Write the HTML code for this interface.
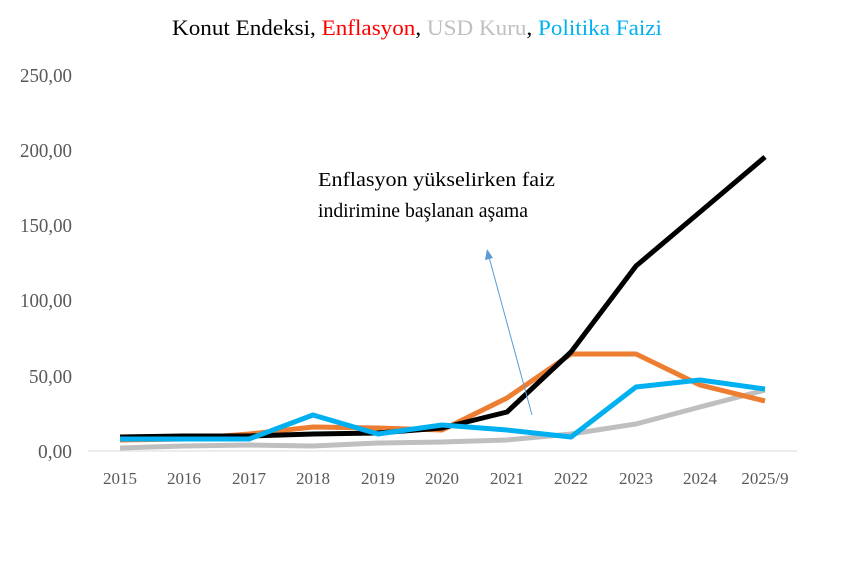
<!DOCTYPE html>
<html><head><meta charset="utf-8"><style>
body{margin:0;background:#fff;}
</style></head><body>
<svg width="844" height="564" xmlns="http://www.w3.org/2000/svg" font-family="Liberation Serif, serif">
<rect width="844" height="564" fill="#fff"/>
<text x="172" y="35" font-size="22" textLength="490" lengthAdjust="spacingAndGlyphs"><tspan fill="#000">Konut Endeksi, </tspan><tspan fill="#ff0000">Enflasyon</tspan><tspan fill="#000">, </tspan><tspan fill="#c0c0c0">USD Kuru</tspan><tspan fill="#000">, </tspan><tspan fill="#00b0f0">Politika Faizi</tspan></text>
<g font-size="20" fill="#595959">
<text x="20" y="82" textLength="52" lengthAdjust="spacingAndGlyphs">250,00</text>
<text x="20" y="157" textLength="52" lengthAdjust="spacingAndGlyphs">200,00</text>
<text x="20" y="232" textLength="52" lengthAdjust="spacingAndGlyphs">150,00</text>
<text x="20" y="307" textLength="52" lengthAdjust="spacingAndGlyphs">100,00</text>
<text x="29" y="383" textLength="43" lengthAdjust="spacingAndGlyphs">50,00</text>
<text x="38" y="458" textLength="34" lengthAdjust="spacingAndGlyphs">0,00</text>
</g>
<line x1="88" y1="451" x2="797" y2="451" stroke="#d9d9d9" stroke-width="1"/>
<g font-size="17" fill="#595959" text-anchor="middle">
<text x="120" y="484">2015</text><text x="184" y="484">2016</text><text x="249" y="484">2017</text><text x="313" y="484">2018</text><text x="378" y="484">2019</text><text x="442" y="484">2020</text><text x="507" y="484">2021</text><text x="571" y="484">2022</text><text x="636" y="484">2023</text><text x="700" y="484">2024</text><text x="765" y="484">2025/9</text>
</g>
<g fill="none" stroke-width="5" stroke-linejoin="round">
<polyline stroke="#bfbfbf" points="120,448 184,446 249,445 313,446 378,443 442,442 507,440 571,434 636,424 700,407 765,390"/>
<polyline stroke="#ed7d31" points="120,440 184,439 249,434 313,427 378,428 442,430 507,398 571,354 636,354 700,385 765,401"/>
<polyline stroke="#000" points="120,437 184,436 249,436 313,434 378,433 442,428 507,412 571,352 636,266 700,212 765,157"/>
<polyline stroke="#00b0f0" points="120,439 184,439 249,439 313,415 378,434 442,425 507,430 571,437 636,387 700,380 765,389"/>
</g>
<line x1="532" y1="415" x2="489" y2="257" stroke="#5b9bd5" stroke-width="1"/>
<polygon points="487,249 485,260 493,258" fill="#5b9bd5"/>
<text x="318" y="186" font-size="20" textLength="237" lengthAdjust="spacingAndGlyphs">Enflasyon yükselirken faiz</text>
<text x="318" y="217" font-size="20" textLength="210" lengthAdjust="spacingAndGlyphs">indirimine başlanan aşama</text>
</svg>
</body></html>
